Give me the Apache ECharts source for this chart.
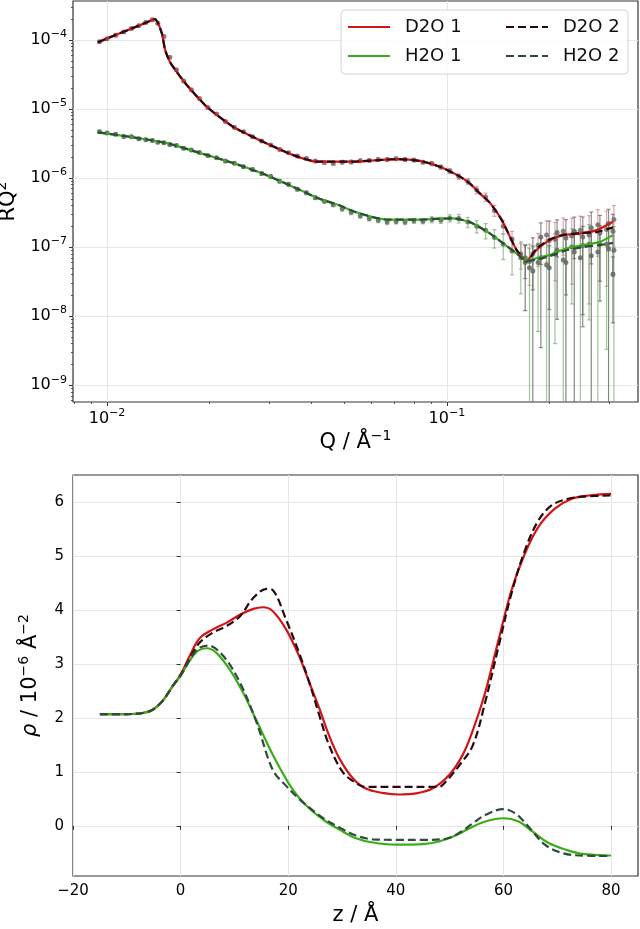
<!DOCTYPE html>
<html>
<head>
<meta charset="utf-8">
<script src="https://cdn.jsdelivr.net/npm/echarts@6/dist/echarts.min.js"></script>
<style>html,body{margin:0;padding:0;background:#fff}#chart{width:640px;height:929px}</style>
</head>
<body>
<div id="chart"></div>
<script>
var chart = echarts.init(document.getElementById('chart'));
var F = 'DejaVu Sans';

// ---- reflectivity fits (top panel)
const qFitD = [0.0094, 0.0105, 0.0118, 0.0130, 0.01384, 0.01449, 0.01482, 0.01532, 0.01604, 0.01716, 0.01965, 0.02354, 0.0295, 0.0353, 0.0414, 0.0530, 0.0711, 0.0833, 0.0953, 0.1092, 0.1169, 0.125, 0.1337, 0.1448, 0.1603, 0.1716, 0.1836, 0.201, 0.220, 0.246, 0.276, 0.308];
const rD2O1 = [9.3e-5, 1.16e-4, 1.46e-4, 1.78e-4, 2.0e-4, 1.26e-4, 7.2e-5, 4.8e-5, 3.44e-5, 2.23e-5, 1.08e-5, 5.5e-6, 3.17e-6, 2.15e-6, 1.73e-6, 1.73e-6, 1.88e-6, 1.77e-6, 1.46e-6, 1.05e-6, 8.3e-7, 6.0e-7, 4.4e-7, 2.5e-7, 9.1e-8, 6.4e-8, 9.1e-8, 1.26e-7, 1.49e-7, 1.57e-7, 1.76e-7, 2.33e-7];
const rD2O2 = [9.3e-5, 1.16e-4, 1.46e-4, 1.78e-4, 2.0e-4, 1.26e-4, 7.2e-5, 4.8e-5, 3.44e-5, 2.23e-5, 1.08e-5, 5.5e-6, 3.17e-6, 2.15e-6, 1.73e-6, 1.73e-6, 1.88e-6, 1.77e-6, 1.46e-6, 1.05e-6, 8.3e-7, 6.0e-7, 4.4e-7, 2.5e-7, 9.1e-8, 6.2e-8, 9.5e-8, 1.3e-7, 1.5e-7, 1.6e-7, 1.65e-7, 1.93e-7];
const qFitH = [0.0094, 0.0119, 0.015, 0.0188, 0.0235, 0.0295, 0.037, 0.0418, 0.0484, 0.053, 0.0600, 0.0667, 0.0833, 0.0953, 0.104, 0.1169, 0.1337, 0.1465, 0.1603, 0.1716, 0.1836, 0.201, 0.225, 0.252, 0.282, 0.308];
const rH2O1 = [4.6e-6, 3.9e-6, 3.2e-6, 2.3e-6, 1.65e-6, 1.1e-6, 6.7e-7, 5.1e-7, 4.0e-7, 3.3e-7, 2.75e-7, 2.5e-7, 2.5e-7, 2.58e-7, 2.6e-7, 2.3e-7, 1.58e-7, 1.13e-7, 8.1e-8, 6.4e-8, 6.9e-8, 7.7e-8, 9.6e-8, 1.07e-7, 1.19e-7, 1.49e-7];
const rH2O2 = [4.6e-6, 3.9e-6, 3.2e-6, 2.3e-6, 1.65e-6, 1.1e-6, 6.7e-7, 5.1e-7, 4.0e-7, 3.3e-7, 2.75e-7, 2.5e-7, 2.5e-7, 2.58e-7, 2.6e-7, 2.3e-7, 1.58e-7, 1.13e-7, 8.1e-8, 6.3e-8, 6.6e-8, 7.4e-8, 9.0e-8, 1.0e-7, 1.07e-7, 1.15e-7];

// ---- measured points with relative errors (set 1, full range)
const qData = [0.0095, 0.0100, 0.0106, 0.0112, 0.0118, 0.0124, 0.0130, 0.0136, 0.0141, 0.0147, 0.0153, 0.0160, 0.0168, 0.0177, 0.0187, 0.0198, 0.0210, 0.0223, 0.0237, 0.0252, 0.0268, 0.0285, 0.0303, 0.0322, 0.0342, 0.0363, 0.0386, 0.0410, 0.0436, 0.0463, 0.0492, 0.0523, 0.0556, 0.0591, 0.0628, 0.0667, 0.0709, 0.0753, 0.0800, 0.0850, 0.0903, 0.0960, 0.1020, 0.1084, 0.1152, 0.1224, 0.1300, 0.1380, 0.1465, 0.1555, 0.1650, 0.1750, 0.1855, 0.1965, 0.2080, 0.2200, 0.2330, 0.2470, 0.2620, 0.2780, 0.2950, 0.3100];
const rD2Odata = [9.4e-5, 1.04e-4, 1.17e-4, 1.31e-4, 1.47e-4, 1.61e-4, 1.79e-4, 1.96e-4, 1.75e-4, 1.12e-4, 5.6e-5, 3.7e-5, 2.55e-5, 1.9e-5, 1.42e-5, 1.05e-5, 8.5e-6, 6.6e-6, 5.4e-6, 4.7e-6, 3.95e-6, 3.45e-6, 3.0e-6, 2.6e-6, 2.32e-6, 2.08e-6, 1.92e-6, 1.76e-6, 1.68e-6, 1.63e-6, 1.70e-6, 1.71e-6, 1.78e-6, 1.79e-6, 1.86e-6, 1.85e-6, 1.90e-6, 1.85e-6, 1.82e-6, 1.70e-6, 1.62e-6, 1.44e-6, 1.27e-6, 1.05e-6, 8.9e-7, 6.7e-7, 5.3e-7, 3.4e-7, 2.0e-7, 1.3e-7, 8.0e-8, 6.2e-8, 1.05e-7, 1.5e-7, 1.3e-7, 1.7e-7, 1.45e-7, 1.75e-7, 1.5e-7, 2.1e-7, 1.8e-7, 2.5e-7];
const eD2Odata = [0.05, 0.05, 0.05, 0.05, 0.05, 0.05, 0.05, 0.05, 0.05, 0.05, 0.04, 0.04, 0.04, 0.04, 0.04, 0.04, 0.04, 0.04, 0.04, 0.04, 0.05, 0.05, 0.05, 0.05, 0.05, 0.05, 0.05, 0.05, 0.05, 0.05, 0.06, 0.06, 0.06, 0.06, 0.06, 0.06, 0.06, 0.06, 0.06, 0.06, 0.07, 0.07, 0.08, 0.09, 0.1, 0.12, 0.14, 0.18, 0.22, 0.3, 0.4, 0.55, 0.5, 0.6, 0.75, 0.55, 0.8, 0.6, 0.9, 0.65, 0.85, 0.6];
const rH2Odata = [4.7e-6, 4.5e-6, 4.3e-6, 4.0e-6, 3.95e-6, 3.7e-6, 3.6e-6, 3.5e-6, 3.3e-6, 3.25e-6, 3.05e-6, 2.95e-6, 2.7e-6, 2.55e-6, 2.35e-6, 2.12e-6, 1.96e-6, 1.76e-6, 1.64e-6, 1.46e-6, 1.33e-6, 1.16e-6, 1.05e-6, 9.0e-7, 8.1e-7, 6.9e-7, 6.1e-7, 5.2e-7, 4.6e-7, 4.1e-7, 3.6e-7, 3.2e-7, 2.85e-7, 2.6e-7, 2.45e-7, 2.3e-7, 2.35e-7, 2.3e-7, 2.4e-7, 2.36e-7, 2.5e-7, 2.45e-7, 2.62e-7, 2.6e-7, 2.3e-7, 2.0e-7, 1.75e-7, 1.38e-7, 1.1e-7, 8.8e-8, 7.0e-8, 5.0e-8, 6.0e-8, 5.5e-8, 8.0e-8, 6.5e-8, 1.0e-7, 7.0e-8, 1.1e-7, 8.5e-8, 1.1e-7, 9.0e-8];
const eH2Odata = [0.05, 0.05, 0.05, 0.05, 0.05, 0.05, 0.05, 0.05, 0.05, 0.05, 0.05, 0.05, 0.05, 0.05, 0.05, 0.05, 0.05, 0.05, 0.05, 0.05, 0.06, 0.06, 0.06, 0.06, 0.06, 0.06, 0.06, 0.06, 0.06, 0.06, 0.08, 0.08, 0.08, 0.08, 0.08, 0.08, 0.08, 0.08, 0.08, 0.08, 0.1, 0.1, 0.12, 0.14, 0.17, 0.2, 0.25, 0.3, 0.4, 0.55, 0.7, 1.2, 0.9, 1.3, 0.95, 1.4, 0.85, 1.1, 0.92, 1.5, 0.97, 1.2];

// ---- measured points, set 2 (high-Q region)
const qData2 = [0.1700, 0.1790, 0.1890, 0.2000, 0.2110, 0.2240, 0.2370, 0.2510, 0.2660, 0.2820, 0.2990, 0.3080];
const rD2Odata2 = [7.0e-8, 8.0e-8, 1.4e-7, 1.25e-7, 1.6e-7, 1.35e-7, 1.7e-7, 1.4e-7, 1.9e-7, 1.6e-7, 2.2e-7, 1.7e-7];
const eD2Odata2 = [0.5, 0.7, 0.6, 0.9, 0.55, 0.85, 0.6, 0.95, 0.7, 0.8, 0.6, 0.75];
const rH2Odata2 = [6.0e-8, 4.5e-8, 7.0e-8, 5.0e-8, 9.0e-8, 6.0e-8, 8.5e-8, 1.05e-7, 7.5e-8, 1.1e-7, 9.5e-8, 4.0e-8];
const eH2Odata2 = [0.8, 1.3, 0.95, 1.1, 0.9, 1.3, 1.05, 0.9, 1.2, 0.85, 1.3, 0.8];

// ---- SLD profiles (bottom panel)
const zD2O1 = [-15, -10, -7, -5.2, -3.3, -1.4, 0, 1.7, 3.5, 6, 8.5, 11, 13.5, 15.3, 17.1, 19.6, 22, 23.9, 25.8, 27.6, 29.5, 32, 34.4, 37.5, 40.6, 43.7, 46.8, 49.9, 52.4, 54.2, 56.6, 59.1, 61.5, 64, 66.5, 69.6, 72.7, 75.8, 80];
const rhoD2O1 = [2.07, 2.07, 2.09, 2.15, 2.32, 2.6, 2.8, 3.15, 3.47, 3.64, 3.76, 3.91, 4.02, 4.05, 3.98, 3.64, 3.15, 2.66, 2.17, 1.67, 1.25, 0.88, 0.69, 0.61, 0.58, 0.6, 0.69, 0.94, 1.31, 1.74, 2.47, 3.45, 4.37, 5.05, 5.54, 5.88, 6.06, 6.12, 6.15];
const zD2O2 = [-15, -10, -7, -5.2, -3.3, -1.4, 0, 1.7, 3.5, 6, 8.5, 11, 13.5, 16, 17.1, 19.6, 22, 23.9, 25.8, 27.6, 30.1, 32.6, 34.4, 40, 48, 49.3, 51.8, 54.3, 56.6, 59.1, 61.5, 64, 66.5, 69, 72, 75, 80];
const rhoD2O2 = [2.07, 2.07, 2.09, 2.15, 2.32, 2.6, 2.8, 3.1, 3.39, 3.58, 3.7, 3.88, 4.22, 4.39, 4.37, 3.82, 3.21, 2.66, 2.04, 1.49, 1.0, 0.79, 0.72, 0.72, 0.72, 0.82, 1.12, 1.49, 2.29, 3.33, 4.31, 5.11, 5.66, 5.94, 6.06, 6.1, 6.12];
const zH2O1 = [-15, -10, -7, -5.2, -3.3, -1.4, 0, 1.7, 3.2, 4.8, 6.6, 9.1, 11.6, 14.1, 17.1, 20, 22, 24.5, 27, 29.5, 32.6, 35.7, 40, 45, 48, 51.1, 54.2, 56.6, 60, 62.8, 65.3, 68.4, 71.5, 74.6, 80];
const rhoH2O1 = [2.07, 2.07, 2.09, 2.15, 2.32, 2.6, 2.78, 3.06, 3.24, 3.29, 3.21, 2.9, 2.47, 1.95, 1.32, 0.8, 0.52, 0.27, 0.08, -0.07, -0.23, -0.31, -0.35, -0.34, -0.29, -0.18, -0.02, 0.08, 0.14, 0.08, -0.1, -0.32, -0.44, -0.52, -0.55];
const zH2O2 = [-15, -10, -7, -5.2, -3.3, -1.4, 0, 1.7, 3.2, 5.1, 7.9, 11, 14.1, 17.1, 19.6, 22, 24.5, 27, 29.5, 32.6, 35.7, 40, 45, 49.3, 51.8, 54.2, 56.6, 60, 62.2, 64.6, 67.7, 70.8, 74, 80];
const rhoH2O2 = [2.07, 2.07, 2.09, 2.15, 2.32, 2.6, 2.78, 3.08, 3.28, 3.34, 3.15, 2.66, 1.92, 1.04, 0.74, 0.5, 0.29, 0.11, -0.03, -0.18, -0.25, -0.26, -0.26, -0.24, -0.13, 0.04, 0.2, 0.31, 0.23, -0.01, -0.35, -0.5, -0.55, -0.56];

// ---- tick values
const qMajor = [0.01, 0.1];
const qMinor = [0.008, 0.009, 0.02, 0.03, 0.04, 0.05, 0.06, 0.07, 0.08, 0.09, 0.2, 0.3];
const rMajor = [1e-9, 1e-8, 1e-7, 1e-6, 1e-5, 1e-4];
const rMinor = [6e-10, 7e-10, 8e-10, 9e-10, 2e-9, 3e-9, 4e-9, 5e-9, 6e-9, 7e-9, 8e-9, 9e-9, 2e-8, 3e-8, 4e-8, 5e-8, 6e-8, 7e-8, 8e-8, 9e-8, 2e-7, 3e-7, 4e-7, 5e-7, 6e-7, 7e-7, 8e-7, 9e-7, 2e-6, 3e-6, 4e-6, 5e-6, 6e-6, 7e-6, 8e-6, 9e-6, 2e-5, 3e-5, 4e-5, 5e-5, 6e-5, 7e-5, 8e-5, 9e-5, 2e-4, 3e-4];
const zTicks = [-20, 0, 20, 40, 60, 80];
const rhoTicks = [0, 1, 2, 3, 4, 5, 6];

const Q_MIN = 0.00794, Q_MAX = 0.365, R_MIN = 5.7e-10, R_MAX = 3.67e-4;

const C_D1 = '#d11616', C_D2 = '#2a0a10', C_H1 = '#3aae18', C_H2 = '#2f4b3b';

function pairs(xs, ys) { return xs.map(function (x, i) { return [x, ys[i]]; }); }
function errData(qs, r, e) {
  return qs.map(function (q, i) {
    var lo = r[i] * (1 - e[i]);
    var clipped = lo <= R_MIN ? 1 : 0;
    return [q, r[i], clipped ? R_MIN : lo, r[i] * (1 + e[i]), clipped];
  });
}
function errRender(color) {
  return function (params, api) {
    var q = api.value(0);
    var a = api.coord([q, api.value(2)]);
    var b = api.coord([q, api.value(3)]);
    var st = { stroke: color, lineWidth: 1.2 };
    var kids = [
      { type: 'line', shape: { x1: a[0], y1: a[1], x2: b[0], y2: b[1] }, style: st },
      { type: 'line', shape: { x1: b[0] - 2, y1: b[1], x2: b[0] + 2, y2: b[1] }, style: st }
    ];
    if (!api.value(4)) kids.push({ type: 'line', shape: { x1: a[0] - 2, y1: a[1], x2: a[0] + 2, y2: a[1] }, style: st });
    return { type: 'group', children: kids };
  };
}
function errSeries(name, data, color) {
  return { name: name, type: 'custom', xAxisIndex: 0, yAxisIndex: 0, z: 1, clip: true,
    data: data, encode: { x: 0, y: 1 }, renderItem: errRender(color) };
}
function ptsSeries(name, data, color) {
  return { name: name, type: 'scatter', xAxisIndex: 0, yAxisIndex: 0, z: 2, symbolSize: 5,
    data: data, itemStyle: { color: color, opacity: 0.85 } };
}
function pow10(v) {
  var ex = Math.round(Math.log10(v));
  return '{b|10}{s|' + (ex < 0 ? '\u2212' + (-ex) : ex) + '}';
}
function lin(v) { return v < 0 ? '\u2212' + (-v) : String(v); }

var tickRich = {
  b: { fontFamily: F, fontSize: 16, lineHeight: 22, color: '#000' },
  s: { fontFamily: F, fontSize: 11, verticalAlign: 'top', color: '#000' }
};
var nameRich = {
  a: { fontFamily: F, fontSize: 21, lineHeight: 28, color: '#000' },
  i: { fontFamily: F, fontSize: 21, lineHeight: 28, fontStyle: 'italic', color: '#000' },
  s: { fontFamily: F, fontSize: 14, verticalAlign: 'top', color: '#000' }
};
var gridLine = { show: true, lineStyle: { color: '#e6e6e6', width: 1 } };
var tick = { length: 4, lineStyle: { color: '#333', width: 1 } };

function minorAxis(type, grid, min, max, values, pos) {
  return {
    type: type, gridIndex: grid, min: min, max: max, position: pos,
    axisLine: { show: false }, splitLine: { show: false },
    axisLabel: { show: false },
    axisTick: { length: 2, customValues: values, lineStyle: { color: '#333', width: 0.8 } }
  };
}

function fitLine(name, data, color, dashed, xi, yi, smooth) {
  return {
    name: name, type: 'line', xAxisIndex: xi, yAxisIndex: yi, data: data,
    symbol: 'none', smooth: smooth, z: 5,
    lineStyle: { color: color, width: 2.2, type: dashed ? [8, 4] : 'solid' },
    itemStyle: { color: color }
  };
}

var legendBase = {
  orient: 'vertical', top: 17, padding: 0, itemGap: 9, itemWidth: 42, itemHeight: 14, z: 6,
  itemStyle: { opacity: 0 },
  textStyle: { fontFamily: F, fontSize: 18, lineHeight: 20, color: '#111', padding: [0, 0, 0, 10] }
};

option = {
  animation: false,
  backgroundColor: '#fff',
  grid: [
    { left: 73, right: 2, top: 1, height: 401, show: true, borderColor: '#333', borderWidth: 1.2,
      containLabel: false, outerBoundsMode: 'none' },
    { left: 73, right: 2, top: 475, height: 401, show: true, borderColor: '#333', borderWidth: 1.2,
      containLabel: false, outerBoundsMode: 'none' }
  ],
  graphic: [{
    type: 'rect', z: 3, shape: { x: 341, y: 10, width: 287, height: 64, r: 4 },
    style: { fill: 'rgba(255,255,255,0.85)', stroke: '#d4d4d4', lineWidth: 1 }
  }],
  legend: [
    Object.assign({ data: ['D2O 1', 'H2O 1'], left: 347 }, legendBase),
    Object.assign({ data: ['D2O 2', 'H2O 2'], left: 505 }, legendBase)
  ],
  xAxis: [
    { type: 'log', gridIndex: 0, min: Q_MIN, max: Q_MAX, position: 'bottom',
      axisLine: { show: false }, axisTick: Object.assign({ customValues: qMajor }, tick),
      axisLabel: { customValues: qMajor, formatter: pow10, rich: tickRich, margin: 6 },
      splitLine: gridLine,
      name: '{a|Q / Å}{s|\u22121}', nameLocation: 'middle', nameGap: 27, nameTextStyle: { rich: nameRich } },
    minorAxis('log', 0, Q_MIN, Q_MAX, qMinor, 'bottom'),
    { type: 'value', gridIndex: 1, min: -20, max: 85, position: 'bottom',
      axisLine: { show: false }, axisTick: Object.assign({ customValues: zTicks }, tick),
      axisLabel: { customValues: zTicks, formatter: lin, fontFamily: F, fontSize: 15, color: '#000', margin: 8 },
      splitLine: gridLine,
      name: '{a|z / Å}', nameLocation: 'middle', nameGap: 26, nameTextStyle: { rich: nameRich } }
  ],
  yAxis: [
    { type: 'log', gridIndex: 0, min: R_MIN, max: R_MAX, position: 'left',
      axisLine: { show: false }, axisTick: Object.assign({ customValues: rMajor }, tick),
      axisLabel: { customValues: rMajor, formatter: pow10, rich: tickRich, margin: 6 },
      splitLine: gridLine,
      name: '{a|RQ}{s|2}', nameLocation: 'middle', nameGap: 48, nameRotate: 90, nameTextStyle: { rich: nameRich } },
    minorAxis('log', 0, R_MIN, R_MAX, rMinor, 'left'),
    { type: 'value', gridIndex: 1, min: -0.93, max: 6.5, position: 'left',
      axisLine: { show: false }, axisTick: Object.assign({ customValues: rhoTicks }, tick),
      axisLabel: { customValues: rhoTicks, formatter: lin, fontFamily: F, fontSize: 15, color: '#000', margin: 9 },
      splitLine: gridLine,
      name: '{i|ρ}{a| / 10}{s|\u22126}{a| Å}{s|\u22122}', nameLocation: 'middle', nameGap: 28, nameRotate: 90,
      nameTextStyle: { rich: nameRich } }
  ],
  series: [
    errSeries('D2O data', errData(qData, rD2Odata, eD2Odata), 'rgba(205,120,125,0.65)'),
    errSeries('H2O data', errData(qData, rH2Odata, eH2Odata), 'rgba(120,175,110,0.7)'),
    errSeries('D2O data 2', errData(qData2, rD2Odata2, eD2Odata2), 'rgba(110,100,105,0.75)'),
    errSeries('H2O data 2', errData(qData2, rH2Odata2, eH2Odata2), 'rgba(95,110,98,0.8)'),
    ptsSeries('D2O pts', pairs(qData, rD2Odata), '#7a6a6c'),
    ptsSeries('H2O pts', pairs(qData, rH2Odata), '#5f6a60'),
    ptsSeries('D2O pts 2', pairs(qData2, rD2Odata2), '#6a6a6a'),
    ptsSeries('H2O pts 2', pairs(qData2, rH2Odata2), '#5f6a60'),
    fitLine('D2O 1', pairs(qFitD, rD2O1), C_D1, false, 0, 0, 0.2),
    fitLine('D2O 2', pairs(qFitD, rD2O2), C_D2, true, 0, 0, 0.2),
    fitLine('H2O 1', pairs(qFitH, rH2O1), C_H1, false, 0, 0, 0.2),
    fitLine('H2O 2', pairs(qFitH, rH2O2), C_H2, true, 0, 0, 0.2),
    fitLine('D2O 1', pairs(zD2O1, rhoD2O1), C_D1, false, 2, 2, 0.35),
    fitLine('D2O 2', pairs(zD2O2, rhoD2O2), C_D2, true, 2, 2, 0.35),
    fitLine('H2O 1', pairs(zH2O1, rhoH2O1), C_H1, false, 2, 2, 0.35),
    fitLine('H2O 2', pairs(zH2O2, rhoH2O2), C_H2, true, 2, 2, 0.35)
  ]
};

option && chart.setOption(option);
</script>
</body>
</html>
